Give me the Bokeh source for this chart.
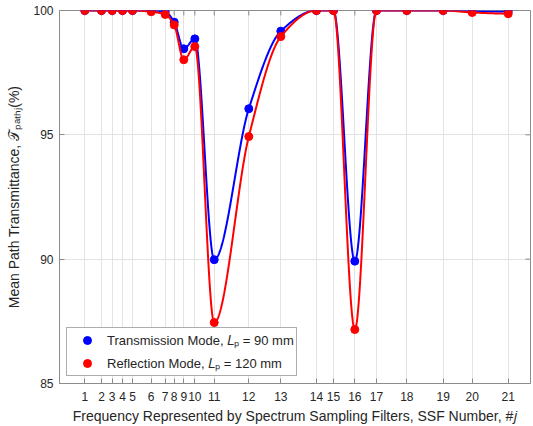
import numpy as np
from bokeh.plotting import figure
from bokeh.models import FixedTicker, Range1d, Legend, LegendItem
from bokeh.embed import file_html
from bokeh.resources import INLINE

# SSF numbers and their (relative) frequency positions on the x axis
ssf = list(range(1, 22))
freq_pos = [5.37, 8.92, 11.19, 13.38, 15.50, 19.47, 22.44, 24.35, 26.39, 28.73,
            32.85, 40.19, 46.99, 54.55, 58.17, 62.70, 67.30, 73.74, 81.46, 87.62, 95.27]

transmission = [100.0, 100.0, 100.0, 100.0, 100.0, 100.0, 99.95, 99.53, 98.46, 98.86,
                89.98, 96.05, 99.17, 100.0, 100.0, 89.92, 100.0, 100.0, 100.0, 99.97, 99.96]
reflection = [100.0, 100.0, 100.0, 100.0, 100.0, 99.95, 99.84, 99.42, 98.02, 98.55,
              87.45, 94.93, 98.95, 100.0, 100.0, 87.17, 100.0, 100.0, 100.0, 99.92, 99.87]

y_ticks = [85, 90, 95, 100]
x_lim = (0, 100)
y_lim = (85, 100)


def pchip(x, y, xq):
    x = np.asarray(x, float)
    y = np.asarray(y, float)
    h = np.diff(x)
    delta = np.diff(y) / h
    n = len(x)
    d = np.zeros(n)
    for k in range(1, n - 1):
        if delta[k - 1] * delta[k] > 0:
            w1 = 2 * h[k] + h[k - 1]
            w2 = h[k] + 2 * h[k - 1]
            d[k] = (w1 + w2) / (w1 / delta[k - 1] + w2 / delta[k])
        else:
            d[k] = 0.0

    def end(h0, h1, del0, del1):
        dd = ((2 * h0 + h1) * del0 - h0 * del1) / (h0 + h1)
        if np.sign(dd) != np.sign(del0):
            dd = 0.0
        elif np.sign(del0) != np.sign(del1) and abs(dd) > abs(3 * del0):
            dd = 3 * del0
        return dd

    d[0] = end(h[0], h[1], delta[0], delta[1])
    d[-1] = end(h[-1], h[-2], delta[-1], delta[-2])
    xq = np.asarray(xq, float)
    idx = np.clip(np.searchsorted(x, xq) - 1, 0, n - 2)
    t = (xq - x[idx]) / h[idx]
    h00 = 2 * t**3 - 3 * t**2 + 1
    h10 = t**3 - 2 * t**2 + t
    h01 = -2 * t**3 + 3 * t**2
    h11 = t**3 - t**2
    return h00 * y[idx] + h10 * h[idx] * d[idx] + h01 * y[idx + 1] + h11 * h[idx] * d[idx + 1]


xs = np.linspace(freq_pos[0], freq_pos[-1], 1500)
yt = pchip(freq_pos, transmission, xs)
yr = pchip(freq_pos, reflection, xs)

FONT = "Liberation Sans"
TXT = "#262626"
FRAME = "#8c8c8c"

p = figure(width=533, height=426, output_backend="svg", toolbar_location=None,
           x_range=Range1d(*x_lim), y_range=Range1d(*y_lim),
           min_border_left=59, min_border_right=3, min_border_top=10, min_border_bottom=43)
p.background_fill_color = "white"
p.border_fill_color = "white"
p.outline_line_color = FRAME
p.outline_line_width = 1

xt = FixedTicker(ticks=freq_pos)
p.xgrid.ticker = xt
p.xgrid.grid_line_color = "#e3e3e3"
p.ygrid.grid_line_color = "#e3e3e3"

# mirrored tick marks on the top and right frame edges (clipped to the frame)
p.scatter(freq_pos, [y_lim[1]] * len(freq_pos), marker="dash", size=10, angle=np.pi / 2,
          line_color=FRAME, line_width=1)
p.scatter([x_lim[1]] * len(y_ticks), y_ticks, marker="dash", size=10,
          line_color=FRAME, line_width=1)

br = p.line(xs, yt, line_color="#0000ff", line_width=2)
bs = p.scatter(freq_pos, transmission, size=8, fill_color="#0000ff", line_color="#0000ff")
rr = p.line(xs, yr, line_color="#ff0000", line_width=2)
rs = p.scatter(freq_pos, reflection, size=8, fill_color="#ff0000", line_color="#ff0000")

p.xaxis.ticker = xt
p.xaxis.major_label_overrides = {fp: str(s) for fp, s in zip(freq_pos, ssf)}
p.yaxis.ticker = FixedTicker(ticks=y_ticks)

for ax in (p.xaxis[0], p.yaxis[0]):
    ax.major_tick_in = 5
    ax.major_tick_out = 0
    ax.minor_tick_line_color = None
    ax.axis_line_color = FRAME
    ax.major_tick_line_color = FRAME
    ax.major_label_text_font = FONT
    ax.major_label_text_font_size = "12px"
    ax.major_label_text_color = TXT
    ax.axis_label_text_font = FONT
    ax.axis_label_text_font_size = "14px"
    ax.axis_label_text_font_style = "normal"
    ax.axis_label_text_color = TXT

p.xaxis.axis_label = "Frequency Represented by Spectrum Sampling Filters, SSF Number, #\U0001D457"
p.yaxis.axis_label = "Mean Path Transmittance, \U0001D4AF\u209A\u2090\u209C\u2095\u2C7C(%)"
p.xaxis.major_label_standoff = 8
p.xaxis.axis_label_standoff = 4
p.yaxis.major_label_standoff = 6
p.yaxis.axis_label_standoff = 8

legend = Legend(items=[
    LegendItem(label="Transmission Mode, \U0001D43F\u209A = 90 mm", renderers=[bs]),
    LegendItem(label="Reflection Mode, \U0001D43F\u209A = 120 mm", renderers=[rs]),
], location=(7, 7))
legend.label_text_font = FONT
legend.label_text_font_size = "13px"
legend.label_text_color = TXT
legend.padding = 2
legend.spacing = 3
legend.label_height = 20
legend.glyph_height = 20
legend.glyph_width = 36
legend.label_standoff = 2
legend.margin = 0
legend.border_line_color = "#5a5a5a"
legend.border_line_width = 1
legend.background_fill_color = "white"
legend.background_fill_alpha = 1
p.add_layout(legend, "center")

open("out.html", "w").write(file_html(p, INLINE))
